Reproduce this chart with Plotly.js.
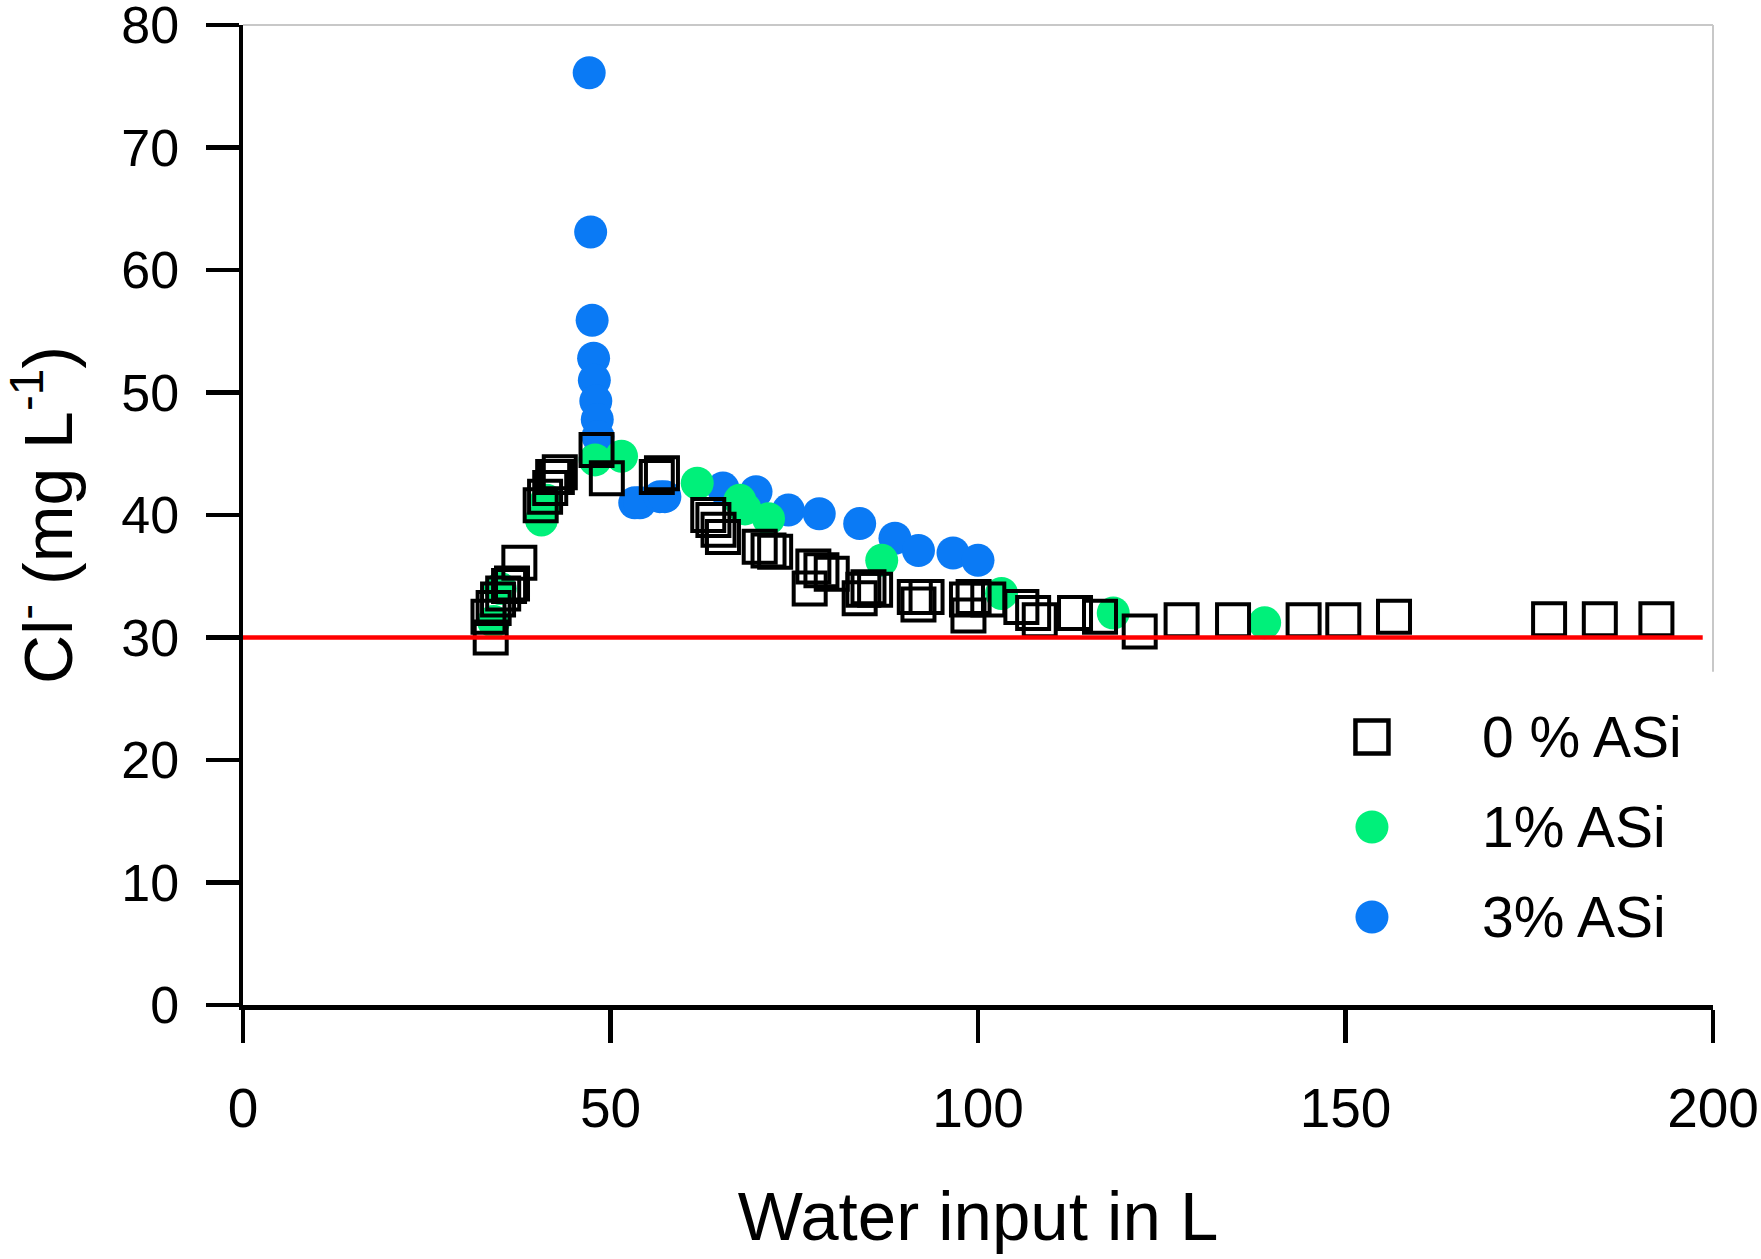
<!DOCTYPE html>
<html>
<head>
<meta charset="utf-8">
<script src="https://cdn.plot.ly/plotly-3.0.1.min.js"></script>
<style>
  html, body { margin: 0; padding: 0; background: #fff; }
  #chart { width: 1761px; height: 1259px; }
</style>
</head>
<body>
<div id="chart"></div>
<script>
// Cl- concentration vs water input
const seriesNames = ['0 % ASi', '1% ASi', '3% ASi'];

const x0 = [33.7, 33.4, 34.1, 34.7, 35.4, 36.2, 36.6, 37.6, 40.5, 41.1, 41.8, 42.2, 42.7, 43.1,
  48.1, 49.5, 56.3, 57.0, 63.3, 64.0, 64.7, 65.3, 70.3, 71.5, 72.4, 77.6, 78.7, 77.1, 80.1,
  83.9, 84.4, 85.1, 86.0, 91.4, 91.9, 93.0, 98.5, 98.7, 99.4, 101.4, 105.9, 107.5, 108.4,
  113.2, 116.6, 122.0, 127.7, 134.7, 144.3, 149.7, 156.6, 177.7, 184.6, 192.3];
const y0 = [30.0, 31.7, 32.4, 33.1, 33.6, 34.2, 34.4, 36.1, 40.8, 41.5, 42.2, 43.1, 43.1, 43.5,
  45.3, 43.0, 43.1, 43.4, 40.0, 39.6, 38.8, 38.2, 37.4, 37.1, 37.0, 35.8, 35.5, 34.0, 35.2,
  33.2, 33.9, 34.1, 33.9, 33.3, 32.7, 33.3, 33.1, 31.8, 33.3, 33.1, 32.5, 32.0, 31.4,
  32.0, 31.7, 30.5, 31.4, 31.4, 31.4, 31.4, 31.7, 31.5, 31.5, 31.5];

const x1 = [34.1, 35.0, 40.6, 41.3, 47.9, 51.5, 61.8, 67.6, 68.3, 71.5, 86.9, 103.2, 118.4, 139.0];
const y1 = [31.3, 34.0, 39.6, 41.2, 44.5, 44.8, 42.6, 41.2, 40.5, 39.7, 36.3, 33.6, 32.0, 31.2];

const x3 = [47.1, 47.3, 47.5, 47.7, 47.8, 48.0, 48.2, 48.3, 48.5, 53.3, 54.0, 56.7, 57.4, 65.3,
  69.8, 74.2, 78.4, 83.9, 88.7, 91.9, 96.6, 100.0];
const y3 = [76.1, 63.1, 55.9, 52.8, 51.0, 49.3, 47.8, 46.4, 45.0, 41.0, 41.0, 41.5, 41.5, 42.2,
  41.9, 40.4, 40.1, 39.3, 38.1, 37.1, 36.9, 36.3];

// limit line
const limitX = [0, 198.6];
const limitY = [30, 30];

const xTicks = [0, 50, 100, 150, 200];
const yTicks = [0, 10, 20, 30, 40, 50, 60, 70, 80];

const GREEN = '#00f07a';
const BLUE = '#0a7af5';
const FONT = '"Liberation Sans", Arial, sans-serif';

// blue drawn first, squares on top
const traces = [
  { x: x3, y: y3, name: seriesNames[2], type: 'scatter', mode: 'markers',
    marker: { symbol: 'circle', size: 33, color: BLUE, line: { width: 0 } } },
  { x: x1, y: y1, name: seriesNames[1], type: 'scatter', mode: 'markers',
    marker: { symbol: 'circle', size: 33, color: GREEN, line: { width: 0 } } },
  { x: x0, y: y0, name: seriesNames[0], type: 'scatter', mode: 'markers',
    marker: { symbol: 'square-open', size: 32, color: '#000', line: { width: 4, color: '#000' } } },
  { x: limitX, y: limitY, name: 'limit', type: 'scatter', mode: 'lines',
    line: { color: '#ff0000', width: 4.5 }, hoverinfo: 'skip' },
];

// hand-made legend (native legend caps marker size)
const legendRows = [0.2735, 0.1816, 0.0898];
const legendSymX = 0.768;
const legendTextX = 0.8415;

const shapes = [
  // light frame on top and right
  { type: 'line', xref: 'paper', yref: 'paper', x0: 0, x1: 1, y0: 1, y1: 1, line: { color: '#c8c8c8', width: 2 } },
  { type: 'line', xref: 'paper', yref: 'paper', x0: 1, x1: 1, y0: 1, y1: 0.34, line: { color: '#c8c8c8', width: 2 } },
  { type: 'rect', xref: 'paper', yref: 'paper', xsizemode: 'pixel', ysizemode: 'pixel',
    xanchor: legendSymX, yanchor: legendRows[0], x0: -16.5, x1: 16.5, y0: -16.5, y1: 16.5,
    line: { color: '#000', width: 4.5 }, fillcolor: 'rgba(0,0,0,0)' },
  { type: 'circle', xref: 'paper', yref: 'paper', xsizemode: 'pixel', ysizemode: 'pixel',
    xanchor: legendSymX, yanchor: legendRows[1], x0: -16.5, x1: 16.5, y0: -16.5, y1: 16.5,
    line: { width: 0 }, fillcolor: GREEN },
  { type: 'circle', xref: 'paper', yref: 'paper', xsizemode: 'pixel', ysizemode: 'pixel',
    xanchor: legendSymX, yanchor: legendRows[2], x0: -16.5, x1: 16.5, y0: -16.5, y1: 16.5,
    line: { width: 0 }, fillcolor: BLUE },
];

const annotations = seriesNames.map((name, i) => ({
  text: name, xref: 'paper', yref: 'paper', x: legendTextX, y: legendRows[i],
  xanchor: 'left', yanchor: 'middle', showarrow: false,
  font: { family: FONT, size: 57, color: '#000' },
}));

const axisBase = {
  showgrid: false, zeroline: false, showline: true, linecolor: '#000', linewidth: 4.5,
  ticks: 'outside', ticklen: 33, tickwidth: 4.5, tickcolor: '#000', ticklabeloverflow: 'allow',
};

const layout = {
  width: 1761, height: 1259,
  paper_bgcolor: '#fff', plot_bgcolor: '#fff',
  margin: { l: 243, r: 48, t: 25, b: 254 },
  showlegend: false,
  font: { family: FONT, color: '#000' },
  xaxis: { ...axisBase, range: [0, 200], tickvals: xTicks, ticklabelstandoff: 18,
    tickfont: { family: FONT, size: 55 },
    title: { text: 'Water input in L', font: { family: FONT, size: 69 }, standoff: 55 } },
  yaxis: { ...axisBase, range: [0, 80], tickvals: yTicks, ticklabelstandoff: 16,
    tickfont: { family: FONT, size: 52 },
    title: { text: 'Cl<sup>-</sup> (mg L<sup>-1</sup>)', font: { family: FONT, size: 68 }, standoff: 68 } },
  shapes,
  annotations,
};

Plotly.newPlot('chart', traces, layout, { displayModeBar: false, staticPlot: true });
</script>
</body>
</html>
